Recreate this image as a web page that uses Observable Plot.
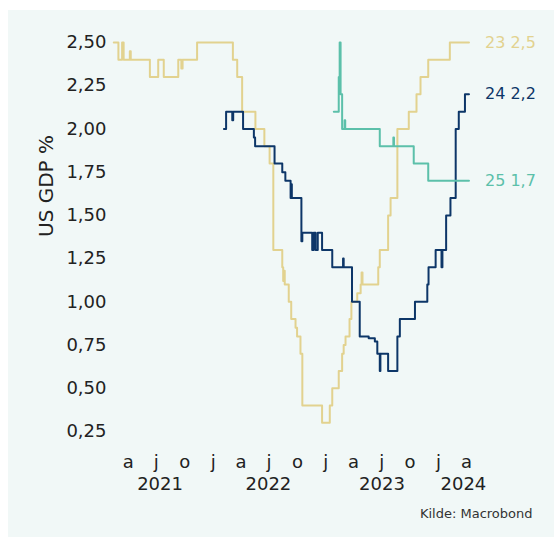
<!DOCTYPE html>
<html>
<head>
<meta charset="utf-8">
<script src="https://cdn.jsdelivr.net/npm/d3@7"></script>
<script src="https://cdn.jsdelivr.net/npm/@observablehq/plot@0.6"></script>
<style>
  body { margin: 0; background: #ffffff; }
  #wrap { position: relative; width: 557px; height: 541px; }
  #panel { position: absolute; left: 8px; top: 10px; width: 546px; height: 527px; background: #f1f8f7; }
  #chart { position: absolute; left: 0; top: 0; }
</style>
</head>
<body>
<div id="wrap"><div id="panel"></div><div id="chart"></div></div>
<script>
// Consensus forecasts of US GDP growth (%) for 2023, 2024 and 2025, as they evolved over time.
const seriesNames = ["23", "24", "25"];
const seriesColors = ["#e2d28f", "#0d3668", "#5cc0aa"];

const dates23 = ["2021-02-13","2021-02-28","2021-03-12","2021-03-17","2021-04-06","2021-04-09","2021-06-10","2021-07-07","2021-07-25","2021-09-10","2021-09-20","2021-09-24","2021-11-10","2022-03-06","2022-03-20","2022-04-05","2022-05-18","2022-06-16","2022-07-03","2022-07-15","2022-08-13","2022-08-16","2022-08-18","2022-08-21","2022-09-03","2022-09-11","2022-09-25","2022-09-30","2022-10-11","2022-10-17","2022-12-20","2023-01-14","2023-01-22","2023-02-12","2023-02-23","2023-02-28","2023-03-06","2023-03-19","2023-03-25","2023-04-13","2023-04-24","2023-04-27","2023-04-30","2023-06-20","2023-06-25","2023-07-22","2023-07-30","2023-08-21","2023-09-27","2023-10-22","2023-11-04","2023-11-29","2024-02-07","2024-04-09"];
const gdp23 = [2.5,2.4,2.5,2.4,2.45,2.4,2.3,2.4,2.3,2.4,2.35,2.4,2.5,2.4,2.3,2.1,2.0,1.9,1.8,1.3,1.2,1.12,1.18,1.1,1.0,0.9,0.85,0.8,0.7,0.4,0.3,0.4,0.5,0.6,0.7,0.75,0.8,0.9,1.0,1.05,1.1,1.17,1.1,1.2,1.3,1.5,1.6,2.0,2.1,2.2,2.3,2.4,2.5,2.5];

const dates24 = ["2022-02-05","2022-02-12","2022-03-04","2022-03-07","2022-04-08","2022-05-13","2022-05-17","2022-07-19","2022-08-13","2022-08-23","2022-09-09","2022-09-11","2022-09-13","2022-10-14","2022-10-17","2022-11-18","2022-11-23","2022-11-29","2022-12-06","2022-12-20","2023-01-22","2023-02-26","2023-02-28","2023-03-27","2023-04-21","2023-05-20","2023-06-09","2023-06-17","2023-06-25","2023-06-27","2023-07-22","2023-08-21","2023-08-29","2023-10-17","2023-11-26","2023-11-30","2023-12-23","2024-01-11","2024-01-14","2024-01-26","2024-02-09","2024-02-26","2024-03-07","2024-03-27","2024-04-09"];
const gdp24 = [2.0,2.1,2.05,2.1,2.0,1.95,1.9,1.8,1.75,1.7,1.6,1.68,1.6,1.35,1.4,1.3,1.4,1.3,1.4,1.3,1.2,1.25,1.2,1.0,0.8,0.79,0.77,0.7,0.6,0.7,0.6,0.8,0.9,1.0,1.1,1.2,1.3,1.2,1.3,1.5,1.6,2.0,2.1,2.2,2.2];

const dates25 = ["2023-01-27","2023-02-12","2023-02-15","2023-02-18","2023-02-23","2023-03-03","2023-03-05","2023-06-25","2023-08-08","2023-08-10","2023-10-13","2023-11-29","2024-04-09"];
const gdp25 = [2.1,2.3,2.5,2.2,2.0,2.05,2.0,1.9,1.95,1.9,1.8,1.7,1.7];

const yTicks = [0.25,0.5,0.75,1.0,1.25,1.5,1.75,2.0,2.25,2.5];
const quarterTicks = ["2021-04-01","2021-07-01","2021-10-01","2022-01-01","2022-04-01","2022-07-01","2022-10-01","2023-01-01","2023-04-01","2023-07-01","2023-10-01","2024-01-01","2024-04-01"];
const quarterLetters = ["a","j","o","j","a","j","o","j","a","j","o","j","a"];
const yearLabels = ["2021","2022","2023","2024"];
const yearLabelDates = ["2021-07-13","2022-06-29","2023-07-02","2024-03-22"];

const seriesData = [
  {name: seriesNames[0], dates: dates23, values: gdp23},
  {name: seriesNames[1], dates: dates24, values: gdp24},
  {name: seriesNames[2], dates: dates25, values: gdp25}
];

const rows = [];
for (const s of seriesData) {
  s.dates.forEach((d, i) => rows.push({series: s.name, date: new Date(d), value: s.values[i]}));
}
const lastRows = seriesData.map(s => ({
  series: s.name,
  date: new Date(s.dates[s.dates.length - 1]),
  value: s.values[s.values.length - 1]
}));

const comma = (v, digits) => v.toFixed(digits).replace(".", ",");

const chart = Plot.plot({
  width: 557,
  height: 541,
  marginTop: 42,
  marginBottom: 110,
  marginLeft: 100,
  marginRight: 91,
  style: {fontFamily: "DejaVu Sans", color: "#222", background: "transparent", overflow: "visible"},
  x: {type: "utc", domain: [new Date("2021-01-01"), new Date("2024-04-01")]},
  y: {domain: [0.25, 2.5]},
  color: {domain: seriesNames, range: seriesColors},
  marks: [
    Plot.axisY({ticks: yTicks, tickFormat: d => comma(d, 2), tickSize: 0, tickPadding: 0, dx: 6, fontSize: 18, label: null}),
    Plot.axisX({
      ticks: quarterTicks.map(d => new Date(d)),
      tickFormat: d => quarterLetters[quarterTicks.indexOf(d.toISOString().slice(0, 10))],
      tickSize: 0, tickPadding: 24, fontSize: 18, label: null
    }),
    Plot.text(yearLabels, {x: (d, i) => new Date(yearLabelDates[i]), text: d => d, frameAnchor: "bottom", dy: 58, fontSize: 18, fill: "#222"}),
    Plot.text(["US GDP %"], {text: d => d, frameAnchor: "left", dx: -54, rotate: -90, fontSize: 20, fill: "#222"}),
    Plot.line(rows, {x: "date", y: "value", z: "series", stroke: "series", curve: "step-after", strokeWidth: 2}),
    Plot.text(lastRows, {
      x: "date", y: "value", fill: "series",
      text: d => `${d.series} ${comma(d.value, 1)}`,
      dx: 16, textAnchor: "start", fontSize: 16
    }),
    Plot.text(["Kilde: Macrobond"], {text: d => d, frameAnchor: "bottom-right", dx: 66, dy: 86, textAnchor: "end", fontSize: 13, fill: "#333"})
  ]
});
document.getElementById("chart").appendChild(chart);
</script>
</body>
</html>
